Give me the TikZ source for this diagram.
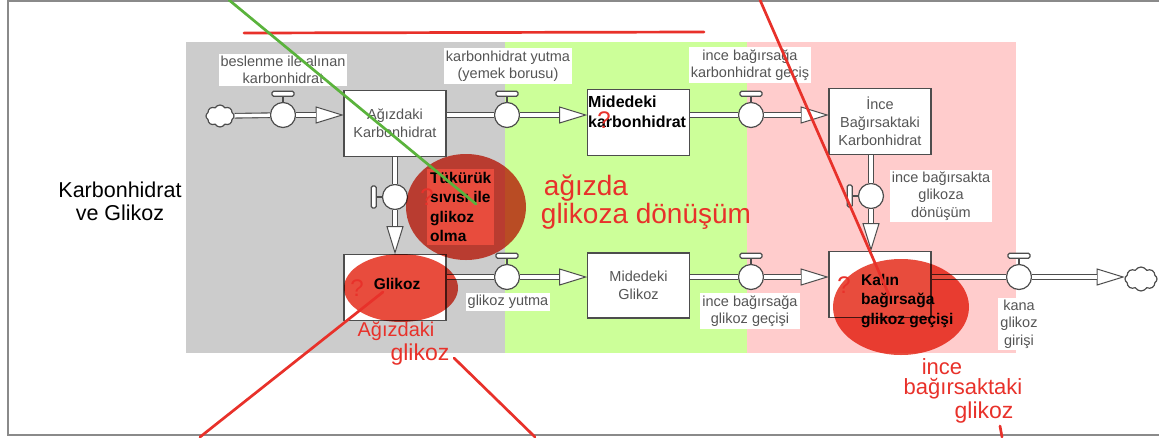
\documentclass[tikz,border=0pt]{standalone}
\usepackage{fontspec}
\setmainfont{Liberation Sans}
\usepackage{xcolor}
\usepackage{tikz}
\usetikzlibrary{shapes.geometric,shapes.symbols,backgrounds}
\definecolor{linegrey}{HTML}{4D4D4D}
\definecolor{textgrey}{HTML}{555555}
\definecolor{framegrey}{HTML}{8A8A8A}
\definecolor{mouthgrey}{HTML}{CCCCCC}
\definecolor{stomachgreen}{HTML}{CCFF99}
\definecolor{gutpink}{HTML}{FFCCCC}
\definecolor{marker}{HTML}{E84C3D}
\definecolor{pen}{HTML}{E8312A}
\definecolor{greenpen}{HTML}{5AB33C}
\tikzstyle{stock}=[draw=linegrey, line width=1.2pt, fill=white, minimum width=102pt, minimum height=66pt, inner sep=0pt, align=center, text=textgrey, font=\fontsize{14.5}{18}\selectfont]
\tikzstyle{valve}=[circle, draw=linegrey, line width=1.2pt, fill=white, minimum size=25pt, inner sep=0pt]
\tikzstyle{handle}=[draw=linegrey, line width=1.2pt, fill=white, rounded corners=1.5pt, inner sep=0pt]
\tikzstyle{tip}=[isosceles triangle, isosceles triangle stretches, draw=linegrey, line width=1pt, fill=white, minimum width=16pt, minimum height=26pt, inner sep=0pt]
\tikzstyle{pipe}=[draw=linegrey, line width=1.1pt, double=white, double distance=3.5pt]
\tikzstyle{cloudy}=[cloud, cloud puffs=8, cloud puff arc=120, aspect=1.3, draw=linegrey, line width=1.2pt, fill=white, minimum width=28pt, minimum height=22pt, inner sep=0pt]
\tikzstyle{flow label}=[fill=white, text=textgrey, align=center, inner sep=2pt, font=\fontsize{14.5}{17.5}\selectfont]
\tikzstyle{bold text}=[text=black, align=left, inner sep=0pt, font=\bfseries\fontsize{15.5}{19.5}\selectfont]
\tikzstyle{blob}=[fill=marker]
\tikzstyle{pen stroke}=[draw=pen, line width=2.7pt, line cap=round]
\tikzstyle{scrawl}=[text=pen, inner sep=0pt, font=\fontsize{28}{28}\selectfont]

\begin{document}
\begin{tikzpicture}[x=1pt, y=-1pt]
		\useasboundingbox (0,0) rectangle (1159,437);
		\fill [mouthgrey] (186,42) rectangle (505,353);
		\fill [stomachgreen] (505,42) rectangle (747,353);
		\fill [gutpink] (747,42) rectangle (1016,353);
		\draw [framegrey, line width=1.5pt] (1159,1) -- (8,1) -- (8,435) -- (1159,435);

		\node [align=center, font=\fontsize{21.5}{23}\selectfont] (title) at (120,201) {Karbonhidrat\\ve Glikoz};

		\node [style=cloudy] (cloudL) at (220,116) {};
		\node [style=valve] (v1) at (283,115) {};
		\node [style=stock] (ag) at (395,123.5) {Ağızdaki\\Karbonhidrat};
		\node [style=tip, anchor=apex] (tip1) at (ag.west |- v1) {};
		\node [style=valve] (v2) at (507,115) {};
		\node [style=stock] (mk) at (638.5,122.5) {};
		\node [style=tip, anchor=apex] (tip2) at (mk.west |- v2) {};
		\node [style=bold text, font=\bfseries\fontsize{16}{20}\selectfont, anchor=north west] (mktext) at (588,96) {Midedeki\\karbonhidrat};
		\node [style=valve] (v3) at (751,115) {};
		\node [style=stock] (ince) at (880,121.5) {İnce\\Bağırsaktaki\\Karbonhidrat};
		\node [style=tip, anchor=apex] (tip3) at (ince.west |- v3) {};

		\node [style=stock] (glikoz) at (395,287.5) {};
		\node [style=valve] (v4) at (395,197) {};
		\node [style=tip, rotate=-90, anchor=apex] (tip4) at (glikoz.north) {};
		\node [style=stock] (kalin) at (880,284.5) {};
		\node [style=valve] (v5) at (871,196) {};
		\node [style=tip, rotate=-90, anchor=apex] (tip5) at (v5 |- kalin.north) {};

		\node [style=valve] (v6) at (507,277) {};
		\node [style=stock, minimum height=65pt] (mg) at (638.5,285.5) {Midedeki\\Glikoz};
		\node [style=tip, anchor=apex] (tip6) at (mg.west |- v6) {};
		\node [style=valve] (v7) at (751,277) {};
		\node [style=tip, anchor=apex] (tip7) at (kalin.west |- v7) {};
		\node [style=valve] (v8) at (1019,277) {};
		\node [style=cloudy, minimum width=32pt, minimum height=24pt] (cloudR) at (1141,279) {};
		\node [style=tip, anchor=apex] (tip8) at (cloudR.west |- v8) {};

		\draw [style=pipe] (cloudL) to (v1);
		\draw [style=pipe] (v1) to (tip1);
		\draw [style=pipe] (ag.east |- v2) to (v2);
		\draw [style=pipe] (v2) to (tip2);
		\draw [style=pipe] (mk.east |- v3) to (v3);
		\draw [style=pipe] (v3) to (tip3);
		\draw [style=pipe] (ag.south) to (v4);
		\draw [style=pipe] (v4) to (tip4);
		\draw [style=pipe] (v5 |- ince.south) to (v5);
		\draw [style=pipe] (v5) to (tip5);
		\draw [style=pipe] (glikoz.east |- v6) to (v6);
		\draw [style=pipe] (v6) to (tip6);
		\draw [style=pipe] (mg.east |- v7) to (v7);
		\draw [style=pipe] (v7) to (tip7);
		\draw [style=pipe] (kalin.east |- v8) to (v8);
		\draw [style=pipe] (v8) to (tip8);

		\foreach \v in {v1,v2,v3,v6,v7,v8}
			\draw [draw=linegrey, line width=1.2pt] (\v.north) -- ++(0,-5) node [style=handle, anchor=south, minimum width=22pt, minimum height=5pt] {};
		\foreach \v in {v4,v5}
			\draw [draw=linegrey, line width=1.2pt] (\v.west) -- ++(-5,0) node [style=handle, anchor=east, minimum width=5pt, minimum height=22pt] {};

		\node [style=flow label] (lbl1) at (283,70) {beslenme ile alınan\\karbonhidrat};
		\node [style=flow label] (lbl2) at (508,66) {karbonhidrat yutma\\(yemek borusu)};
		\node [style=flow label] (lbl3) at (750,65) {ince bağırsağa\\karbonhidrat geçiş};
		\node [style=bold text, fill=white, inner sep=3pt, anchor=north west] (lbl4) at (427,169) {Tükürük\\sıvısı ile\\glikoz\\olma};
		\node [style=flow label] (lbl5) at (941,196) {ince bağırsakta\\glikoza\\dönüşüm};
		\node [style=flow label] (lbl6) at (508,302) {glikoz yutma};
		\node [style=flow label] (lbl7) at (750,311) {ince bağırsağa\\glikoz geçişi};
		\node [style=flow label] (lbl8) at (1019,324) {kana\\glikoz\\girişi};

		\node [style=bold text] (glikoztext) at (397,284) {Glikoz};
		\node [style=bold text, anchor=north west] (kalintext) at (861,274) {Kalın\\bağırsağa\\glikoz geçişi};

		\begin{scope}[blend mode=multiply]
			\fill [style=blob] (466,207) ellipse [x radius=60, y radius=53];
			\fill [style=blob] (401,288) ellipse [x radius=57, y radius=34];
			\fill [style=blob] (901,307) ellipse [x radius=68, y radius=48];
		\end{scope}

		\draw [style=pen stroke] (244,33) -- (704,32);
		\draw [draw=greenpen, line width=2.7pt, line cap=round] (229,0) -- (476,204);
		\draw [style=pen stroke] (760,0) -- (889,295);
		\draw [style=pen stroke] (383,292) -- (200,437);
		\draw [style=pen stroke] (454,358) -- (535,437);
		\draw [style=pen stroke] (1000,426) -- (1002,437);

		\node [style=scrawl] (hw1) at (586,188) {ağızda};
		\node [style=scrawl] (hw2) at (646,216) {glikoza dönüşüm};
		\node [style=scrawl, font=\fontsize{20}{20}\selectfont] (hw3) at (396,331) {Ağızdaki};
		\node [style=scrawl, font=\fontsize{23}{23}\selectfont] (hw4) at (420,355) {glikoz};
		\node [style=scrawl, font=\fontsize{22}{22}\selectfont] (hw5) at (942,367) {ince};
		\node [style=scrawl, font=\fontsize{22}{22}\selectfont] (hw6) at (963,389) {bağırsaktaki};
		\node [style=scrawl, font=\fontsize{23}{23}\selectfont] (hw7) at (984,413) {glikoz};
		\foreach \n/\p in {q1/{(357,288)}, q2/{(427,197)}, q3/{(604,120)}, q4/{(844,285)}}
			\node [style=scrawl, font=\fontsize{24}{24}\selectfont] (\n) at \p {?};
\end{tikzpicture}
\end{document}
